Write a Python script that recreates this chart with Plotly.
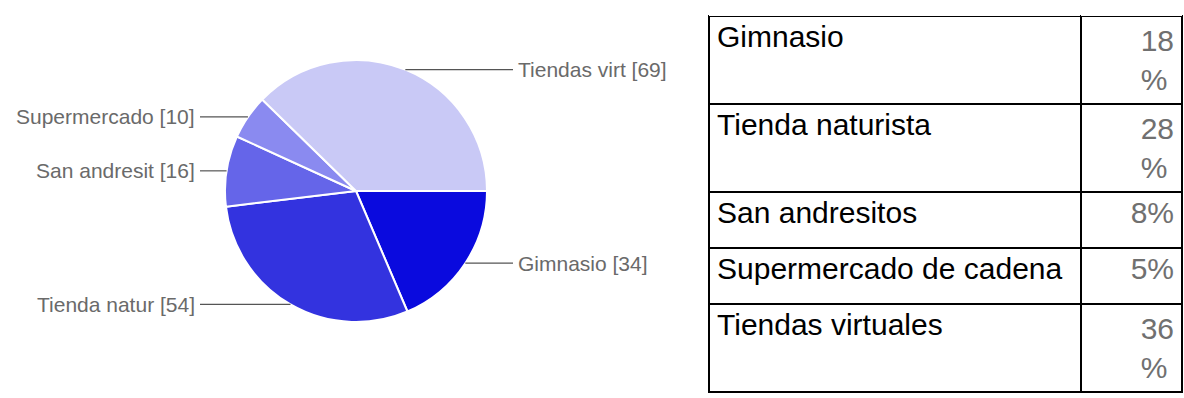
import math
import plotly.graph_objects as go

# Pie data: short labels and response counts
pie_labels = ["Gimnasio", "Tienda natur", "San andresit", "Supermercado", "Tiendas virt"]
pie_values = [34, 54, 16, 10, 69]
pie_colors = ["#0a0ade", "#3333df", "#6565e9", "#8a8af0", "#c9c9f6"]

# Summary table: full category names and percentages
table_names = ["Gimnasio", "Tienda naturista", "San andresitos",
               "Supermercado de cadena", "Tiendas virtuales"]
table_pcts = ["18<br>%", "28<br>%", "8%", "5%", "36<br>%"]

W, H = 1184, 398

# Pie geometry in pixels
CX, CY, R = 356, 191, 131
LEFT_LABEL_X, RIGHT_LABEL_X = 200, 513

fig = go.Figure()

fig.add_trace(go.Pie(
    labels=pie_labels,
    values=pie_values,
    sort=False,
    direction="clockwise",
    rotation=90,
    marker=dict(colors=pie_colors, line=dict(color="white", width=2)),
    textinfo="none",
    hoverinfo="label+value",
    showlegend=False,
    domain=dict(x=[(CX - R) / W, (CX + R) / W],
                y=[1 - (CY + R) / H, 1 - (CY - R) / H]),
))

# Outside labels with horizontal leader lines from each slice's mid-point
total = sum(pie_values)
cum = 0
for lab, val in zip(pie_labels, pie_values):
    mid = (cum + val / 2) / total
    cum += val
    theta = mid * 2 * math.pi
    ex = CX + R * math.cos(theta)
    ey = CY + R * math.sin(theta)
    right = math.cos(theta) >= 0
    lx = RIGHT_LABEL_X if right else LEFT_LABEL_X
    fig.add_shape(type="line", xref="paper", yref="paper",
                  x0=ex / W, x1=lx / W, y0=1 - ey / H, y1=1 - ey / H,
                  line=dict(color="#555555", width=1.2))
    fig.add_annotation(
        xref="paper", yref="paper",
        x=(lx + (3 if right else -3)) / W, y=1 - ey / H,
        text=f"{lab} [{val}]", showarrow=False,
        xanchor="left" if right else "right", yanchor="middle",
        font=dict(family="Liberation Sans", size=21, color="#6a6a6a"),
    )

fig.add_trace(go.Table(
    domain=dict(x=[709 / W, 1182 / W], y=[0, 1]),
    columnwidth=[372, 101],
    header=dict(values=[], height=0, line=dict(width=0), fill=dict(color="white")),
    cells=dict(
        values=[table_names, table_pcts],
        align=["left", "right"],
        height=56,
        fill=dict(color="white"),
        line=dict(color="black", width=2),
        font=dict(family="Liberation Sans", size=30, color=["black", "#707070"]),
    ),
))

fig.update_layout(
    width=W, height=H,
    margin=dict(l=0, r=0, t=0, b=0),
    paper_bgcolor="white",
    plot_bgcolor="white",
)

fig.write_html("out.html")
